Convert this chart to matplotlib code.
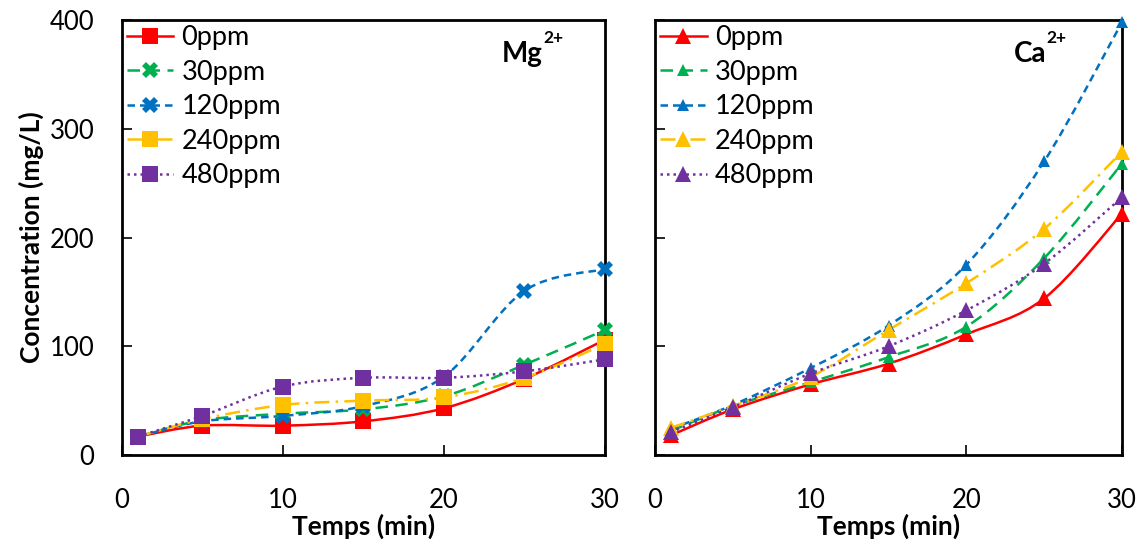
import numpy as np
import matplotlib
matplotlib.use("Agg")
import matplotlib.pyplot as plt
from matplotlib.path import Path
from matplotlib.patches import PathPatch
from matplotlib.lines import Line2D

plt.rcParams['font.family'] = ['Lato', 'DejaVu Sans']

# Data
temps = [1, 5, 10, 15, 20, 25, 30]
labels = ['0ppm', '30ppm', '120ppm', '240ppm', '480ppm']

mg_0 = [17, 27, 27, 31, 43, 70, 106]
mg_30 = [17, 32, 38, 42, 54, 83, 115]
mg_120 = [17, 31, 36, 45, 72, 151, 171]
mg_240 = [17, 33, 46, 50, 53, 71, 102]
mg_480 = [17, 36, 63, 71, 71, 77, 88]

ca_0 = [18, 42, 65, 84, 111, 144, 222]
ca_30 = [22, 45, 67, 90, 118, 181, 268]
ca_120 = [24, 46, 80, 119, 175, 270, 398]
ca_240 = [25, 45, 72, 115, 158, 208, 279]
ca_480 = [21, 44, 75, 100, 133, 176, 237]

colors = ['#FF0000', '#00B050', '#0070C0', '#FFC000', '#7030A0']
styles = ['-', (0, (5, 3)), (0, (3, 2)), (0, (6, 2.5, 1, 2.5)), (0, (1, 1.6))]


def smooth_path(x, y):
    # Excel-like smoothed line drawn as cubic Bezier segments
    pts = np.column_stack([x, y]).astype(float)
    ext = np.vstack([pts[0], pts, pts[-1]])
    verts = [pts[0]]
    codes = [Path.MOVETO]
    for i in range(1, len(ext) - 2):
        p0, p1, p2, p3 = ext[i - 1], ext[i], ext[i + 1], ext[i + 2]
        verts += [p1 + (p2 - p0) / 6, p2 - (p3 - p1) / 6, p2]
        codes += [Path.CURVE4] * 3
    return Path(verts, codes)


def draw_panel(ax, series, markers, sizes, ion, ion_x):
    handles = []
    for vals, lab, c, ls, m, ms in zip(series, labels, colors, styles, markers, sizes):
        patch = PathPatch(smooth_path(temps, vals), fill=False, edgecolor=c,
                          linestyle=ls, linewidth=1.8)
        ax.add_patch(patch)
        ax.plot(temps, vals, linestyle='none', marker=m, markersize=ms,
                color=c, markeredgewidth=0, clip_on=False, zorder=3)
        handles.append(Line2D([], [], color=c, linestyle=ls, linewidth=1.8,
                              marker=m, markersize=ms, markeredgewidth=0))
    ax.set_xlim(0, 30)
    ax.set_ylim(0, 400)
    ax.set_xticks([0, 10, 20, 30])
    ax.set_yticks([0, 100, 200, 300, 400])
    ax.tick_params(direction='in', length=7, width=1.2, labelsize=18.5)
    ax.tick_params(axis='x', pad=24)
    ax.tick_params(axis='y', pad=20)
    for s in ax.spines.values():
        s.set_linewidth(2)
    ax.set_xlabel('Temps (min)', fontsize=19, fontweight='bold', labelpad=0)
    ax.legend(handles, labels, loc='upper left', frameon=False, fontsize=19.5,
              handlelength=1.7, handletextpad=0.3, labelspacing=0.35,
              borderaxespad=0.1, borderpad=0.1)
    t = ax.text(ion_x, 0.903, ion, transform=ax.transAxes, ha='right',
                va='baseline', fontsize=20, fontweight='bold')
    ax.annotate('2+', xy=(1, 0.8), xycoords=t, fontsize=12.5,
                fontweight='bold', va='bottom', ha='left')


fig = plt.figure(figsize=(11.42, 5.45), dpi=100)
ax1 = fig.add_axes([0.1068, 0.1651, 0.4229, 0.7982])
ax2 = fig.add_axes([0.5736, 0.1651, 0.4089, 0.7982])

draw_panel(ax1, [mg_0, mg_30, mg_120, mg_240, mg_480],
           ['s', 'X', 'X', 's', 's'], [11, 11, 11, 11, 11], 'Mg', 0.872)
draw_panel(ax2, [ca_0, ca_30, ca_120, ca_240, ca_480],
           ['^', '^', '^', '^', '^'], [12, 8, 8, 12, 12], 'Ca', 0.839)

ax1.set_ylabel('Concentration (mg/L)', fontsize=19, fontweight='bold', labelpad=4)
ax2.set_yticklabels([])

fig.savefig('out.png', dpi=100)
